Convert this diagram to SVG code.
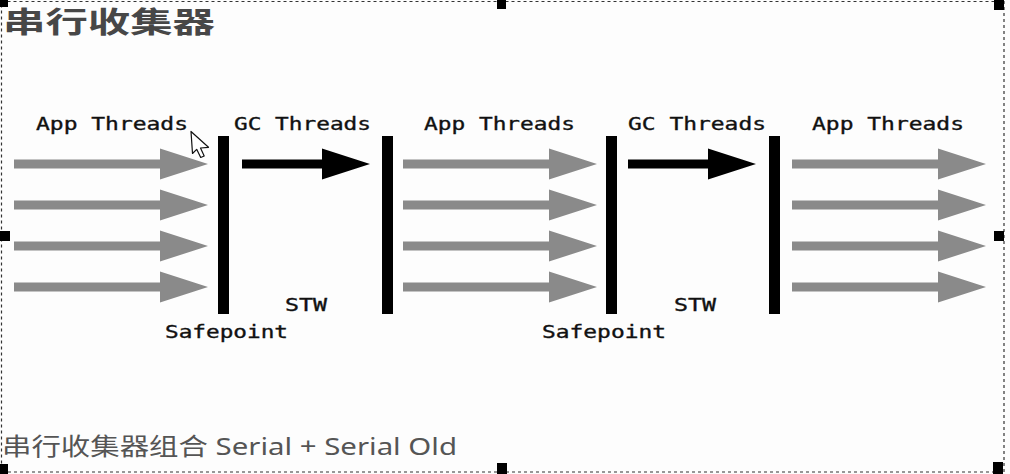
<svg xmlns="http://www.w3.org/2000/svg" xmlns:xlink="http://www.w3.org/1999/xlink" width="1010" height="474" viewBox="0 0 1010 474">
  <style>
    .lbl { font-family: "DejaVu Sans Mono", "Liberation Mono", monospace; font-size: 18px; fill: #111; stroke: #111; stroke-width: 0.35px; }
    .bar { fill: #000; }
    .app { fill: #8a8a8a; }
    .gc { fill: #000; }
    .handle { fill: #000; }
    .sel { fill: none; stroke: #333; stroke-width: 1.2; stroke-dasharray: 3 3; }
  </style>
  <defs>
    <path id="appArrow" d="M0,-4.5 H146 V-15.5 L194,0 L146,15.5 V4.5 H0 Z"/>
    <path id="gcArrow" d="M0,-4.5 H80 V-15.5 L128,0 L80,15.5 V4.5 H0 Z"/>
  </defs>
  <rect width="1010" height="474" fill="#fdfdfd"/>

  <g id="title">
    <text x="3" y="33" textLength="212" lengthAdjust="spacingAndGlyphs" style="font-family:'Noto Sans CJK SC',sans-serif;font-size:29px;font-weight:bold;fill:#474747">串行收集器</text>
  </g>

  <g id="labels">
    <text class="lbl" x="36" y="130" textLength="152" lengthAdjust="spacingAndGlyphs">App Threads</text>
    <text class="lbl" x="234" y="130" textLength="137" lengthAdjust="spacingAndGlyphs">GC Threads</text>
    <text class="lbl" x="424" y="130" textLength="151" lengthAdjust="spacingAndGlyphs">App Threads</text>
    <text class="lbl" x="628" y="130" textLength="138" lengthAdjust="spacingAndGlyphs">GC Threads</text>
    <text class="lbl" x="812" y="130" textLength="152" lengthAdjust="spacingAndGlyphs">App Threads</text>
    <text class="lbl" x="285" y="311" textLength="42" lengthAdjust="spacingAndGlyphs">STW</text>
    <text class="lbl" x="674" y="311" textLength="42" lengthAdjust="spacingAndGlyphs">STW</text>
    <text class="lbl" x="165" y="338" textLength="123" lengthAdjust="spacingAndGlyphs">Safepoint</text>
    <text class="lbl" x="542" y="338" textLength="124" lengthAdjust="spacingAndGlyphs">Safepoint</text>
  </g>

  <g id="safepoint-1"><rect class="bar" x="218" y="136" width="11" height="178"/></g>
  <g id="stw-end-1"><rect class="bar" x="382" y="136" width="11" height="178"/></g>
  <g id="safepoint-2"><rect class="bar" x="606" y="136" width="11" height="178"/></g>
  <g id="stw-end-2"><rect class="bar" x="769" y="136" width="11" height="178"/></g>

  <g id="connectors">
    <use href="#appArrow" class="app" transform="translate(14,164)"/>
    <use href="#appArrow" class="app" transform="translate(14,205)"/>
    <use href="#appArrow" class="app" transform="translate(14,246)"/>
    <use href="#appArrow" class="app" transform="translate(14,287)"/>
    <use href="#gcArrow" class="gc" transform="translate(242,164)"/>
    <use href="#appArrow" class="app" transform="translate(403,164)"/>
    <use href="#appArrow" class="app" transform="translate(403,205)"/>
    <use href="#appArrow" class="app" transform="translate(403,246)"/>
    <use href="#appArrow" class="app" transform="translate(403,287)"/>
    <use href="#gcArrow" class="gc" transform="translate(628,164)"/>
    <use href="#appArrow" class="app" transform="translate(792,164)"/>
    <use href="#appArrow" class="app" transform="translate(792,205)"/>
    <use href="#appArrow" class="app" transform="translate(792,246)"/>
    <use href="#appArrow" class="app" transform="translate(792,287)"/>
  </g>

  <g id="caption">
    <text x="2" y="455" textLength="455" lengthAdjust="spacingAndGlyphs" style="font-family:'Noto Sans','Noto Sans CJK SC',sans-serif;font-size:24px;fill:#555">串行收集器组合 Serial + Serial Old</text>
  </g>

  <g id="selection">
    <rect class="sel" x="1.5" y="1.5" width="1002.5" height="470.5"/>
    <rect class="handle" x="0" y="0" width="8" height="7"/>
    <rect class="handle" x="497" y="0" width="9" height="9"/>
    <rect class="handle" x="994" y="0" width="10" height="10"/>
    <rect class="handle" x="0" y="231" width="10" height="10"/>
    <rect class="handle" x="994" y="231" width="10" height="10"/>
    <rect class="handle" x="0" y="464" width="8" height="10"/>
    <rect class="handle" x="497" y="463" width="10" height="11"/>
    <rect class="handle" x="993" y="462" width="10" height="12"/>
  </g>

  <g id="cursor">
    <path d="M191,131.5 L192.5,153.5 L196.7,149.3 L200.7,157.5 L204.2,156 L200.5,148 L208.5,147.3 Z" fill="#fff" stroke="#111" stroke-width="1.2" stroke-linejoin="round"/>
  </g>
</svg>
